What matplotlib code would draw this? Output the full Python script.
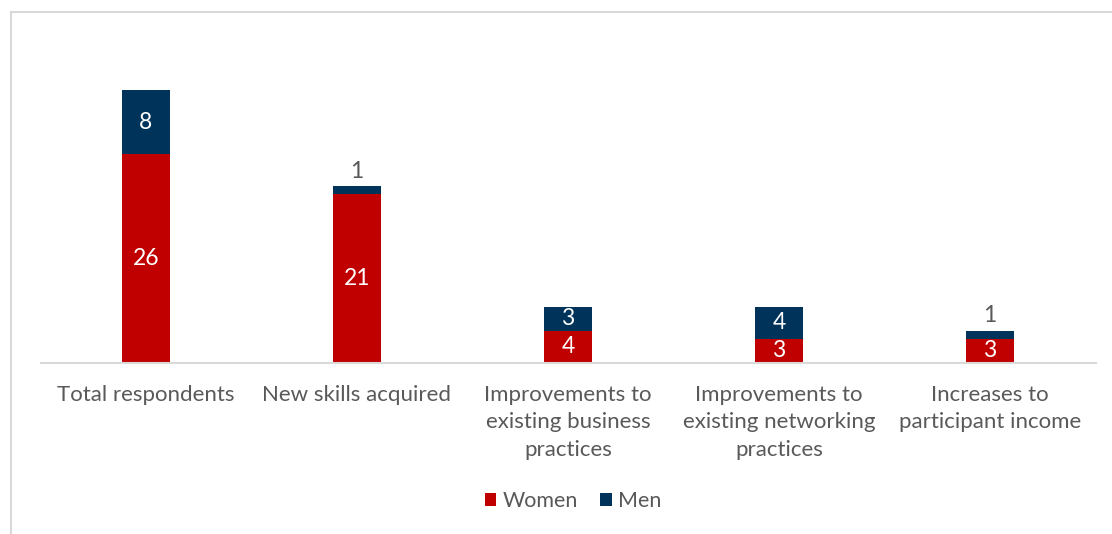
import matplotlib.pyplot as plt
import numpy as np
from matplotlib.patches import Rectangle

categories = ["Total respondents", "New skills acquired",
              "Improvements to\nexisting business\npractices",
              "Improvements to\nexisting networking\npractices",
              "Increases to\nparticipant income"]
women = [26, 21, 4, 3, 3]
men = [8, 1, 3, 4, 1]

RED = "#C00000"
NAVY = "#003359"
GREY = "#595959"

plt.rcParams["font.family"] = ["Lato", "DejaVu Sans"]

fig = plt.figure(figsize=(11.12, 5.34), dpi=100)
# outer chart frame
fig.patches.append(Rectangle((11 / 1112, -0.1), 1.2, 1 - 12 / 534 + 0.1,
                             transform=fig.transFigure, fill=False,
                             edgecolor="#d9d9d9", linewidth=1.5))

ax = fig.add_axes([40.5 / 1112, (534 - 363) / 534, 1055 / 1112, 321 / 534])
x = np.arange(len(categories))
w = 0.227
b1 = ax.bar(x, women, w, color=RED, label="Women")
b2 = ax.bar(x, men, w, bottom=women, color=NAVY, label="Men")

for i in range(len(x)):
    ax.text(x[i], women[i] / 2, str(women[i]), ha="center", va="center",
            color="white", fontsize=16.5)
    if men[i] >= 3:
        ax.text(x[i], women[i] + men[i] / 2, str(men[i]), ha="center",
                va="center", color="white", fontsize=16.5)
    else:
        ax.text(x[i], women[i] + men[i] + 0.6, str(men[i]), ha="center",
                va="bottom", color=GREY, fontsize=16.5)

ax.set_xlim(-0.5, len(x) - 0.5)
ax.set_ylim(0, 40)
ax.set_yticks([])
ax.set_xticks(x)
ax.set_xticklabels(categories, fontsize=16, color=GREY, linespacing=1.45)
ax.tick_params(axis="x", length=0, pad=16)
for s in ["top", "right", "left"]:
    ax.spines[s].set_visible(False)
ax.spines["bottom"].set_color("#d9d9d9")
ax.spines["bottom"].set_linewidth(1.5)

fig.legend(handles=[b1, b2], loc="center", bbox_to_anchor=(573 / 1112, 1 - 501 / 534),
           ncol=2, frameon=False, fontsize=15.5, labelcolor=GREY,
           handlelength=0.55, handleheight=0.55, handletextpad=0.3, columnspacing=1.0)

fig.savefig("out.png", dpi=100)
